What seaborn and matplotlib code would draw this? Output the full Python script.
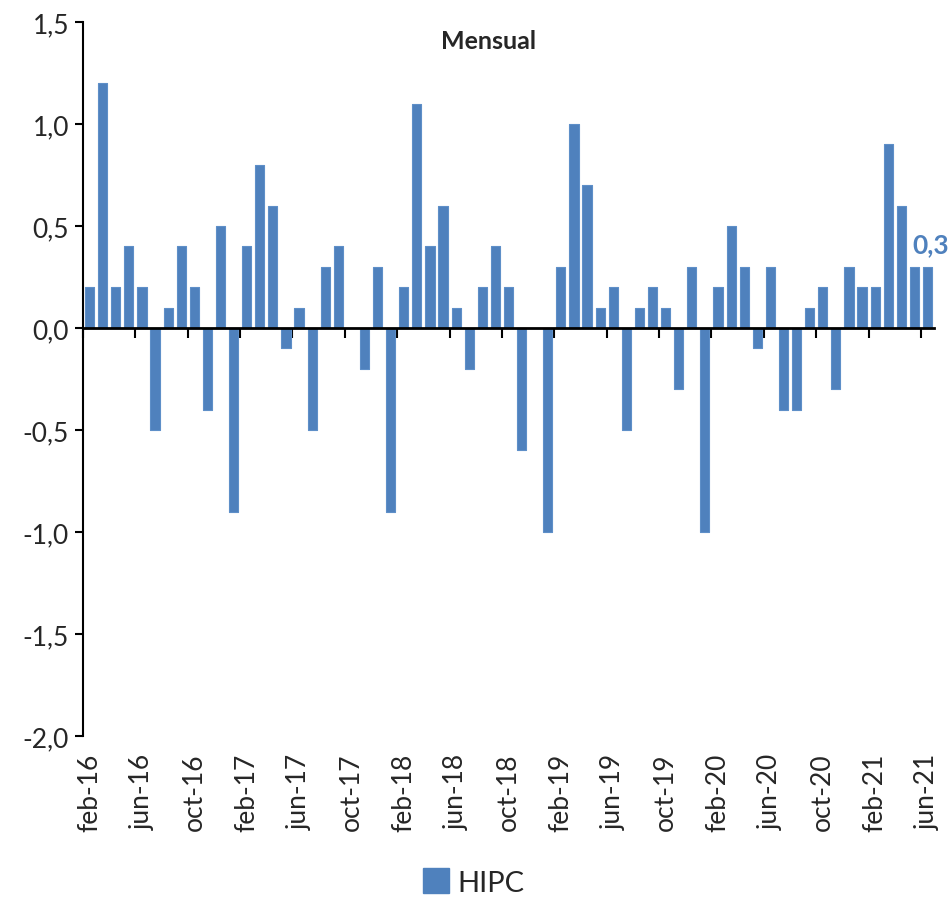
import numpy as np
import pandas as pd
import seaborn as sns
import matplotlib.pyplot as plt
from matplotlib.patches import Patch
from matplotlib.ticker import FuncFormatter

# Spanish month abbreviations used for the category labels
month_abbr = ['ene', 'feb', 'mar', 'abr', 'may', 'jun',
              'jul', 'ago', 'sep', 'oct', 'nov', 'dic']
start_year, start_month = 2016, 2
n_months = 65

# HIPC monthly change (%), feb-16 .. jun-21
hipc = [0.2, 1.2, 0.2, 0.4, 0.2, -0.5, 0.1, 0.4, 0.2, -0.4, 0.5, -0.9,
        0.4, 0.8, 0.6, -0.1, 0.1, -0.5, 0.3, 0.4, 0.0, -0.2, 0.3, -0.9,
        0.2, 1.1, 0.4, 0.6, 0.1, -0.2, 0.2, 0.4, 0.2, -0.6, 0.0, -1.0,
        0.3, 1.0, 0.7, 0.1, 0.2, -0.5, 0.1, 0.2, 0.1, -0.3, 0.3, -1.0,
        0.2, 0.5, 0.3, -0.1, 0.3, -0.4, -0.4, 0.1, 0.2, -0.3, 0.3, 0.2,
        0.2, 0.9, 0.6, 0.3, 0.3]

y_ticks = [1.5, 1.0, 0.5, 0.0, -0.5, -1.0, -1.5, -2.0]
bar_color = '#4F81BD'

months = []
for i in range(n_months):
    m = (start_month - 1 + i) % 12
    y = start_year + (start_month - 1 + i) // 12
    months.append(f"{month_abbr[m]}-{str(y)[2:]}")

df = pd.DataFrame({'mes': months, 'HIPC': hipc})

sns.set_theme(style='white')
plt.rcParams['font.family'] = ['Lato', 'DejaVu Sans']

fig = plt.figure(figsize=(9.53, 9.03), dpi=100)
ax = fig.add_axes([0.0871, 0.1838, 0.8930, 0.7907])

sns.barplot(data=df, x='mes', y='HIPC', color=bar_color, saturation=1,
            width=0.7, edgecolor='#5E8FC8', linewidth=0.8, ax=ax)
for p in ax.patches:
    p.set_joinstyle('round')
    if p.get_height() == 0:
        p.set_visible(False)

ax.set_xlim(-0.5, n_months - 0.5)
ax.set_ylim(-2.0, 1.5)
ax.set_xlabel('')
ax.set_ylabel('')

# y axis
ax.set_yticks(y_ticks)
ax.yaxis.set_major_formatter(FuncFormatter(lambda v, _: f"{v:.1f}".replace('.', ',')))
ax.tick_params(axis='y', direction='out', length=6, width=1.5, color='black',
               labelsize=19, pad=4, left=True)

# x axis line at zero with boundary ticks
ax.spines['bottom'].set_position(('data', 0))
ax.spines['bottom'].set_color('black')
ax.spines['bottom'].set_linewidth(2)
ax.spines['left'].set_color('black')
ax.spines['left'].set_linewidth(1.5)
ax.spines['top'].set_visible(False)
ax.spines['right'].set_visible(False)
ax.set_xticks(np.arange(-0.5, n_months - 1, 4))
ax.set_xticklabels([])
ax.tick_params(axis='x', direction='out', length=7, width=1.5, color='black', bottom=True)

# month labels at the bottom of the plot
label_pos = list(range(0, n_months, 4))
sec = ax.secondary_xaxis('bottom')
sec.set_xticks(label_pos, [months[i] for i in label_pos])
sec.tick_params(length=0, rotation=90, labelsize=19, pad=12)
sec.spines['bottom'].set_visible(False)

ax.text(0.477, 0.99, 'Mensual', transform=ax.transAxes, ha='center', va='top',
        fontsize=18, fontweight='bold')

ax.annotate(f"{hipc[-1]:.1f}".replace('.', ','), xy=(n_months - 1, hipc[-1]),
            xytext=(2, 8), textcoords='offset points', ha='center', va='bottom',
            fontsize=19, fontweight='bold', color=bar_color, annotation_clip=False)

fig.legend(handles=[Patch(facecolor=bar_color, edgecolor=bar_color)], labels=['HIPC'],
           loc='lower center', bbox_to_anchor=(0.497, -0.022), frameon=False,
           fontsize=21, handlelength=0.9, handleheight=0.9, handletextpad=0.3)

fig.savefig('out.png', dpi=100)
